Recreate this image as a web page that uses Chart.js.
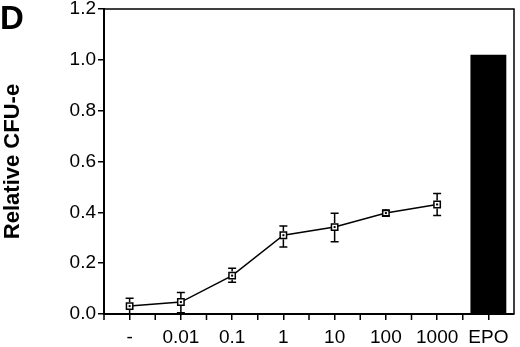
<!DOCTYPE html>
<html>
<head>
<meta charset="utf-8">
<script src="https://cdn.jsdelivr.net/npm/chart.js@4/dist/chart.umd.min.js"></script>
<style>
  body { margin: 0; background: #fff; }
  canvas { display: block; }
</style>
</head>
<body>
<canvas id="myChart" width="520" height="347"></canvas>
<script>
let doses = ['-', '0.01', '0.1', '1', '10', '100', '1000', 'EPO'];
let cfuMean = [0.031, 0.047, 0.151, 0.31, 0.342, 0.397, 0.431, null];
let cfuErrHigh = [0.062, 0.085, 0.18, 0.346, 0.396, 0.407, 0.474, null];
let cfuErrLow = [0.0, 0.005, 0.125, 0.264, 0.284, 0.387, 0.388, null];
let epoBar = [null, null, null, null, null, null, null, 1.02];
let yTicks = [0, 0.2, 0.4, 0.6, 0.8, 1.0, 1.2];

const FONT = '"Liberation Sans", Arial, sans-serif';

// error bars + inner dot of the square markers
const errorBars = {
  id: 'errorBars',
  afterDatasetsDraw(chart) {
    const ctx = chart.ctx;
    const x = chart.scales.x, y = chart.scales.y;
    ctx.save();
    ctx.strokeStyle = '#000';
    ctx.lineWidth = 1.5;
    cfuMean.forEach((v, i) => {
      if (v === null) return;
      const px = x.getPixelForValue(i);
      const yHi = y.getPixelForValue(cfuErrHigh[i]);
      const yLo = y.getPixelForValue(cfuErrLow[i]);
      const yv = y.getPixelForValue(v);
      ctx.beginPath();
      ctx.moveTo(px, yHi); ctx.lineTo(px, yv - 4);
      ctx.moveTo(px, yv + 4); ctx.lineTo(px, yLo);
      ctx.moveTo(px - 4, yHi); ctx.lineTo(px + 4, yHi);
      ctx.moveTo(px - 4, yLo); ctx.lineTo(px + 4, yLo);
      ctx.stroke();
      ctx.fillStyle = '#000';
      ctx.fillRect(px - 1, yv - 1, 2, 2);
    });
    ctx.restore();
  }
};

// frame on top/right, boundary ticks on x axis, panel letter
const frame = {
  id: 'frame',
  afterDraw(chart) {
    const ctx = chart.ctx;
    const a = chart.chartArea;
    const x = chart.scales.x;
    ctx.save();
    ctx.strokeStyle = '#000';
    ctx.lineWidth = 1.5;
    ctx.beginPath();
    ctx.moveTo(a.left, a.top); ctx.lineTo(a.right, a.top); ctx.lineTo(a.right, a.bottom);
    for (let i = 0; i < doses.length; i++) {
      const bx = x.getPixelForValue(i) - (x.getPixelForValue(1) - x.getPixelForValue(0)) / 2;
      ctx.moveTo(bx, a.bottom); ctx.lineTo(bx, a.bottom + 6);
    }
    ctx.stroke();
    ctx.fillStyle = '#000';
    ctx.font = 'bold 33px ' + FONT;
    ctx.textBaseline = 'top';
    ctx.fillText('D', 0, 3);
    ctx.restore();
  }
};

let chartElement = document.getElementById('myChart').getContext('2d');

let myChart = new Chart(chartElement, {
  type: 'bar',
  data: {
    labels: doses,
    datasets: [{
      type: 'line',
      data: cfuMean,
      borderColor: '#000',
      borderWidth: 1.5,
      pointStyle: 'rect',
      pointRadius: 4.5,
      pointBackgroundColor: '#fff',
      pointBorderColor: '#000',
      pointBorderWidth: 1.5,
      spanGaps: false,
      order: 0
    }, {
      type: 'bar',
      data: epoBar,
      backgroundColor: '#000',
      barPercentage: 0.7,
      categoryPercentage: 1,
      order: 1
    }]
  },
  options: {
    responsive: false,
    animation: false,
    layout: { padding: { left: 0, right: 3, top: 9, bottom: 0 } },
    plugins: { legend: { display: false }, tooltip: { enabled: false } },
    scales: {
      x: {
        offset: true,
        grid: { offset: false, drawOnChartArea: false, tickLength: 6, color: '#000', lineWidth: 1.5 },
        border: { color: '#000', width: 2 },
        ticks: { color: '#000', padding: 6, maxRotation: 0, font: { family: FONT, size: 19 } },
        afterFit: s => { s.height = 33; s.paddingLeft = 0; s.paddingRight = 0; }
      },
      y: {
        min: 0,
        max: 1.2,
        afterBuildTicks: s => { s.ticks = yTicks.map(v => ({ value: v })); },
        grid: { drawOnChartArea: false, tickLength: 6, color: '#000', lineWidth: 1.5 },
        border: { color: '#000', width: 2 },
        ticks: {
          color: '#000', padding: 2,
          font: { family: FONT, size: 19 },
          callback: v => v.toFixed(1)
        },
        title: {
          display: true,
          text: 'Relative CFU-e',
          color: '#000',
          padding: { top: 0, bottom: 0 },
          font: { family: FONT, size: 22, weight: 'bold' }
        },
        afterFit: s => { s.width = 104; s.paddingTop = 0; s.paddingBottom = 0; }
      }
    }
  },
  plugins: [errorBars, frame]
});
</script>
</body>
</html>
